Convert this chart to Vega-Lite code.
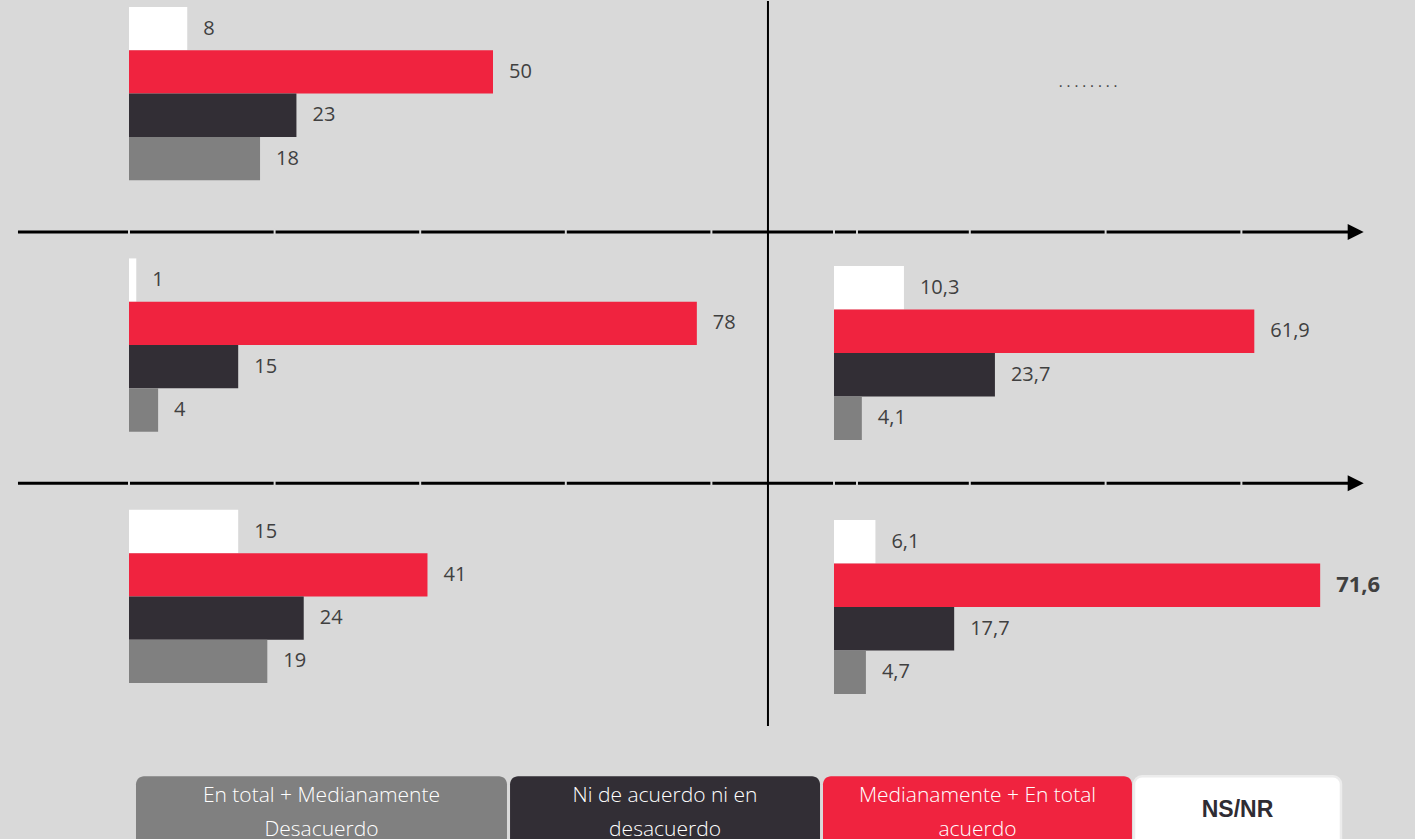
{
  "$schema": "https://vega.github.io/schema/vega-lite/v6.json",
  "width": 1415,
  "height": 839,
  "autosize": {"type": "fit", "contains": "padding"},
  "padding": 0,
  "background": "#d9d9d9",
  "config": {
    "view": {"stroke": null},
    "locale": {"number": {"decimal": ",", "thousands": ".", "grouping": [3], "currency": ["", " €"]}}
  },
  "resolve": {"scale": {"x": "independent", "y": "independent", "yOffset": "independent"}},
  "layer": [
    {
      "layer": [
        {
          "data": {"values": [
            {"row": "1", "cat": "NS", "value": 8},
            {"row": "1", "cat": "Med", "value": 50},
            {"row": "1", "cat": "Ni", "value": 23},
            {"row": "1", "cat": "En", "value": 18},
            {"row": "2", "cat": "NS", "value": 1},
            {"row": "2", "cat": "Med", "value": 78},
            {"row": "2", "cat": "Ni", "value": 15},
            {"row": "2", "cat": "En", "value": 4},
            {"row": "3", "cat": "NS", "value": 15},
            {"row": "3", "cat": "Med", "value": 41},
            {"row": "3", "cat": "Ni", "value": 24},
            {"row": "3", "cat": "En", "value": 19}
          ]},
          "layer": [
            {
              "mark": {"type": "bar"},
              "encoding": {
                "x": {"field": "value", "type": "quantitative", "scale": {"domain": [0, 100], "range": [129, 857]}, "axis": null},
                "y": {"field": "row", "type": "nominal", "scale": {"domain": ["1", "2", "3", "L"], "range": [6, 933.5], "paddingInner": 0.311, "paddingOuter": 0}, "axis": null},
                "yOffset": {"field": "cat", "type": "nominal", "scale": {"domain": ["NS", "Med", "Ni", "En"], "paddingInner": 0, "paddingOuter": 0}},
                "color": {"field": "cat", "type": "nominal", "scale": {"domain": ["NS", "Med", "Ni", "En"], "range": ["#ffffff", "#f0233f", "#322e35", "#808080"]}, "legend": null}
              }
            },
            {
              "mark": {"type": "text", "align": "left", "baseline": "middle", "dx": 16, "font": "Open Sans", "fontSize": 20, "fill": "#404040"},
              "encoding": {
                "x": {"field": "value", "type": "quantitative", "axis": null},
                "y": {"field": "row", "type": "nominal", "axis": null},
                "yOffset": {"field": "cat", "type": "nominal"},
                "text": {"field": "value", "type": "quantitative", "format": ".1~f"}
              }
            }
          ]
        },
        {
          "data": {"values": [
            {"row": "2", "start": -15.25, "end": 167.5, "tip": 168.5},
            {"row": "3", "start": -15.25, "end": 167.5, "tip": 168.5}
          ]},
          "layer": [
            {
              "mark": {"type": "rule", "strokeWidth": 3, "color": "#000000", "yOffset": -26.5},
              "encoding": {
                "x": {"field": "start", "type": "quantitative", "axis": null},
                "x2": {"field": "end"},
                "y": {"field": "row", "type": "nominal", "bandPosition": 0, "axis": null}
              }
            },
            {
              "mark": {"type": "point", "shape": "M-1,-1L1,0L-1,1Z", "filled": true, "color": "#000000", "opacity": 1, "size": 256, "yOffset": -26.5},
              "encoding": {
                "x": {"field": "tip", "type": "quantitative", "axis": null},
                "y": {"field": "row", "type": "nominal", "bandPosition": 0, "axis": null}
              }
            }
          ]
        },
        {
          "data": {"values": [
            {"row": "2", "g": 0}, {"row": "2", "g": 20}, {"row": "2", "g": 40}, {"row": "2", "g": 60}, {"row": "2", "g": 80}, {"row": "2", "g": 100},
            {"row": "3", "g": 0}, {"row": "3", "g": 20}, {"row": "3", "g": 40}, {"row": "3", "g": 60}, {"row": "3", "g": 80}, {"row": "3", "g": 100}
          ]},
          "mark": {"type": "point", "shape": "M-0.33,-1L0.33,-1L0.33,1L-0.33,1Z", "filled": true, "color": "#d9d9d9", "opacity": 1, "size": 36, "yOffset": -26.5},
          "encoding": {
            "x": {"field": "g", "type": "quantitative", "axis": null},
            "y": {"field": "row", "type": "nominal", "bandPosition": 0, "axis": null}
          }
        },
        {
          "data": {"values": [{"pos": 87.77, "from": "1", "to": "3"}]},
          "mark": {"type": "rule", "strokeWidth": 2, "color": "#000000", "yOffset": -6, "y2Offset": 43},
          "encoding": {
            "x": {"field": "pos", "type": "quantitative", "axis": null},
            "y": {"field": "from", "type": "nominal", "bandPosition": 0, "axis": null},
            "y2": {"field": "to", "bandPosition": 1}
          }
        },
        {
          "data": {"values": [
            {"row": "L", "cat": "En", "from": 0.96, "to": 51.92},
            {"row": "L", "cat": "Ni", "from": 52.34, "to": 94.92},
            {"row": "L", "cat": "Med", "from": 95.33, "to": 137.77},
            {"row": "L", "cat": "NS", "from": 138.05, "to": 166.48}
          ]},
          "mark": {"type": "bar", "cornerRadius": 8, "yOffset": 15, "clip": true, "stroke": "#ececec"},
          "encoding": {
            "x": {"field": "from", "type": "quantitative", "axis": null},
            "x2": {"field": "to"},
            "y": {"field": "row", "type": "nominal", "axis": null},
            "color": {"field": "cat", "type": "nominal", "legend": null},
            "strokeWidth": {"condition": {"test": "datum.cat === 'NS'", "value": 2.5}, "value": 0}
          }
        },
        {
          "data": {"values": [
            {"row": "L", "cat": "En", "cx": 26.44, "lines": ["En total + Medianamente", "Desacuerdo"]},
            {"row": "L", "cat": "Ni", "cx": 73.63, "lines": ["Ni de acuerdo ni en", "desacuerdo"]},
            {"row": "L", "cat": "Med", "cx": 116.55, "lines": ["Medianamente + En total", "acuerdo"]}
          ]},
          "mark": {"type": "text", "align": "center", "baseline": "alphabetic", "yOffset": 41, "lineHeight": 34, "font": "Open Sans", "fontWeight": 300, "fontSize": 21, "fill": "#ffffff", "clip": true},
          "encoding": {
            "x": {"field": "cx", "type": "quantitative", "axis": null},
            "y": {"field": "row", "type": "nominal", "bandPosition": 0, "axis": null},
            "text": {"field": "lines"}
          }
        },
        {
          "data": {"values": [
            {"row": "L", "cat": "NS", "cx": 152.27, "lines": "NS/NR"}
          ]},
          "mark": {"type": "text", "align": "center", "baseline": "alphabetic", "yOffset": 56, "font": "Liberation Sans", "fontWeight": "bold", "fontSize": 23, "fill": "#2f2c33", "clip": true},
          "encoding": {
            "x": {"field": "cx", "type": "quantitative", "axis": null},
            "y": {"field": "row", "type": "nominal", "bandPosition": 0, "axis": null},
            "text": {"field": "lines"}
          }
        }
      ]
    },
    {
      "layer": [
        {
          "data": {"values": [
            {"row": "2", "cat": "NS", "value": 10.3},
            {"row": "2", "cat": "Med", "value": 61.9},
            {"row": "2", "cat": "Ni", "value": 23.7},
            {"row": "2", "cat": "En", "value": 4.1},
            {"row": "3", "cat": "NS", "value": 6.1},
            {"row": "3", "cat": "Med", "value": 71.6},
            {"row": "3", "cat": "Ni", "value": 17.7},
            {"row": "3", "cat": "En", "value": 4.7}
          ]},
          "layer": [
            {
              "mark": {"type": "bar"},
              "encoding": {
                "x": {"field": "value", "type": "quantitative", "scale": {"domain": [0, 100], "range": [834, 1513]}, "axis": null},
                "y": {"field": "row", "type": "nominal", "scale": {"domain": ["1", "2", "3"], "range": [11, 693], "paddingInner": 0.315, "paddingOuter": 0}, "axis": null},
                "yOffset": {"field": "cat", "type": "nominal", "scale": {"domain": ["NS", "Med", "Ni", "En"], "paddingInner": 0, "paddingOuter": 0}},
                "color": {"field": "cat", "type": "nominal", "legend": null}
              }
            },
            {
              "transform": [{"filter": "datum.value !== 71.6"}],
              "mark": {"type": "text", "align": "left", "baseline": "middle", "dx": 16, "font": "Open Sans", "fontSize": 20, "fill": "#404040"},
              "encoding": {
                "x": {"field": "value", "type": "quantitative", "axis": null},
                "y": {"field": "row", "type": "nominal", "axis": null},
                "yOffset": {"field": "cat", "type": "nominal"},
                "text": {"field": "value", "type": "quantitative", "format": ".1~f"}
              }
            },
            {
              "transform": [{"filter": "datum.value === 71.6"}],
              "mark": {"type": "text", "align": "left", "baseline": "middle", "dx": 16, "font": "Open Sans", "fontSize": 22, "fontWeight": "bold", "fill": "#404040"},
              "encoding": {
                "x": {"field": "value", "type": "quantitative", "axis": null},
                "y": {"field": "row", "type": "nominal", "axis": null},
                "yOffset": {"field": "cat", "type": "nominal"},
                "text": {"field": "value", "type": "quantitative", "format": ".1~f"}
              }
            }
          ]
        },
        {
          "data": {"values": [
            {"row": "2", "g": 0}, {"row": "2", "g": 20}, {"row": "2", "g": 40}, {"row": "2", "g": 60}
          ]},
          "mark": {"type": "point", "shape": "M-0.33,-1L0.33,-1L0.33,1L-0.33,1Z", "filled": true, "color": "#d9d9d9", "opacity": 1, "size": 36, "yOffset": -34.3},
          "encoding": {
            "x": {"field": "g", "type": "quantitative", "axis": null},
            "y": {"field": "row", "type": "nominal", "bandPosition": 0, "axis": null}
          }
        },
        {
          "data": {"values": [
            {"row": "3", "g": 0}, {"row": "3", "g": 20}, {"row": "3", "g": 40}, {"row": "3", "g": 60}
          ]},
          "mark": {"type": "point", "shape": "M-0.33,-1L0.33,-1L0.33,1L-0.33,1Z", "filled": true, "color": "#d9d9d9", "opacity": 1, "size": 36, "yOffset": -36.5},
          "encoding": {
            "x": {"field": "g", "type": "quantitative", "axis": null},
            "y": {"field": "row", "type": "nominal", "bandPosition": 0, "axis": null}
          }
        },
        {
          "data": {"values": [{"row": "1", "pos": 33.1, "t": ". . . . . . . ."}]},
          "mark": {"type": "text", "align": "left", "baseline": "alphabetic", "dy": -12, "font": "Open Sans", "fontSize": 15, "fill": "#404040"},
          "encoding": {
            "x": {"field": "pos", "type": "quantitative", "axis": null},
            "y": {"field": "row", "type": "nominal", "axis": null},
            "text": {"field": "t"}
          }
        }
      ]
    }
  ]
}
